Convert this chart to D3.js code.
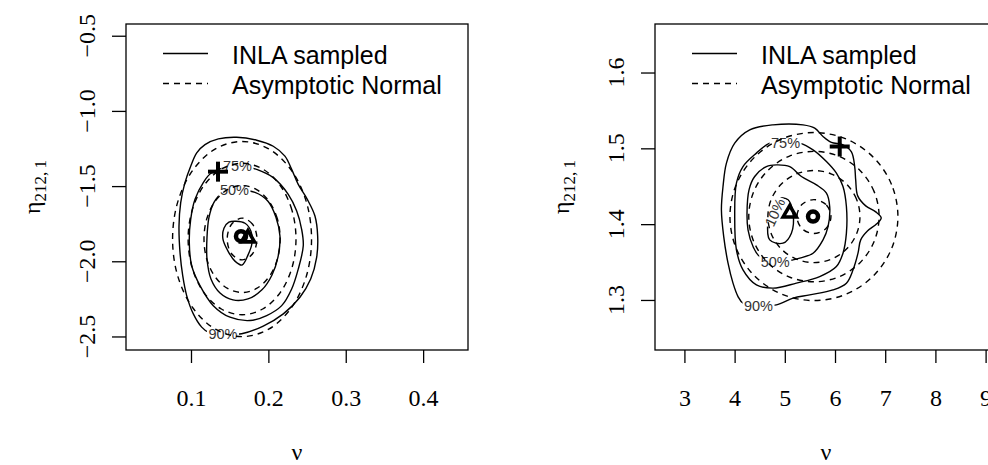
<!DOCTYPE html>
<html><head><meta charset="utf-8">
<script src="https://cdn.jsdelivr.net/npm/d3@7"></script>
<style>body{margin:0;background:#fff}svg{display:block}</style>
</head><body>
<svg id="chart" width="988" height="465"></svg>
<script>
// ---------- data ----------
const legendLabels = ["INLA sampled", "Asymptotic Normal"];
const xTitle = "\u03BD";
const yTitleMain = "\u03B7";
const yTitleSub = "212,\u20091";

const leftXTicks = [0.1, 0.2, 0.3, 0.4];
const leftYTicks = [-2.5, -2.0, -1.5, -1.0, -0.5];
const rightXTicks = [3, 4, 5, 6, 7, 8, 9];
const rightYTicks = [1.3, 1.4, 1.5, 1.6];

// Left panel: INLA sampled contours (solid)
const leftS90 = [[0.1655,-2.482],[0.1934,-2.431],[0.2193,-2.350],[0.2408,-2.239],[0.2547,-2.118],[0.2624,-1.974],[0.2637,-1.831],[0.2602,-1.699],[0.2503,-1.588],[0.2386,-1.489],[0.2301,-1.389],[0.2214,-1.301],[0.2063,-1.235],[0.1849,-1.195],[0.159,-1.175],[0.1353,-1.186],[0.1181,-1.224],[0.1074,-1.279],[0.0996,-1.368],[0.0922,-1.477],[0.0867,-1.610],[0.0845,-1.765],[0.0858,-1.941],[0.0893,-2.096],[0.0944,-2.228],[0.103,-2.350],[0.1138,-2.438],[0.1224,-2.471],[0.1440,-2.485]];
const leftS75 = [[0.1607,-1.362],[0.1849,-1.389],[0.2063,-1.444],[0.2257,-1.555],[0.2366,-1.666],[0.243,-1.787],[0.2451,-1.897],[0.2386,-2.052],[0.2301,-2.184],[0.2172,-2.295],[0.1978,-2.361],[0.1762,-2.394],[0.1504,-2.372],[0.1288,-2.295],[0.1116,-2.162],[0.1009,-2.030],[0.0978,-1.875],[0.0996,-1.721],[0.1052,-1.588],[0.1159,-1.477],[0.1267,-1.411]];
const leftS50 = [[0.1568,-1.529],[0.1827,-1.542],[0.1995,-1.601],[0.2098,-1.707],[0.215,-1.833],[0.2124,-1.972],[0.2047,-2.091],[0.1917,-2.190],[0.1736,-2.250],[0.1543,-2.257],[0.1375,-2.211],[0.1258,-2.118],[0.1207,-1.985],[0.1207,-1.839],[0.1233,-1.707],[0.1297,-1.608],[0.14,-1.548]];
const leftS10 = [[0.1581,-1.734],[0.1698,-1.747],[0.1775,-1.800],[0.1788,-1.880],[0.1736,-1.959],[0.1659,-2.025],[0.1568,-1.999],[0.1478,-1.932],[0.1413,-1.853],[0.1426,-1.780],[0.149,-1.740]];
// Left panel: asymptotic normal contours (dashed)
const leftN90 = [[0.2558,-1.852],[0.2490,-1.6034],[0.2295,-1.3932],[0.2004,-1.2523],[0.166,-1.203],[0.1316,-1.2523],[0.1025,-1.3932],[0.0830,-1.6034],[0.0762,-1.852],[0.0830,-2.1006],[0.1025,-2.3108],[0.1316,-2.4517],[0.166,-2.501],[0.2004,-2.4517],[0.2295,-2.3108],[0.2490,-2.1006]];
const leftN75 = [[0.2357,-1.852],[0.2304,-1.6591],[0.2153,-1.496],[0.1927,-1.3867],[0.166,-1.3484],[0.1393,-1.3867],[0.1167,-1.496],[0.1016,-1.6591],[0.0963,-1.852],[0.1016,-2.0449],[0.1167,-2.208],[0.1393,-2.3173],[0.166,-2.3556],[0.1927,-2.3173],[0.2153,-2.208],[0.2304,-2.0449]];
const leftN50 = [[0.2152,-1.852],[0.2115,-1.7158],[0.2008,-1.6005],[0.1848,-1.5233],[0.166,-1.4963],[0.1472,-1.5233],[0.1312,-1.6005],[0.1205,-1.7158],[0.1168,-1.852],[0.1205,-1.9882],[0.1312,-2.1035],[0.1472,-2.1807],[0.166,-2.2077],[0.1848,-2.1807],[0.2008,-2.1035],[0.2115,-1.9882]];
const leftN10 = [[0.1852,-1.852],[0.1796,-1.7538],[0.166,-1.7131],[0.1524,-1.7538],[0.1468,-1.852],[0.1524,-1.9502],[0.166,-1.9909],[0.1796,-1.9502]];
const leftLabelText = ["75%", "50%", "90%"];
const leftLabelX = [0.1601, 0.1562, 0.1413];
const leftLabelY = [-1.366, -1.527, -2.482];
const leftLabelAngle = [0, 0, 0];
const leftCircle = [0.1646, -1.833];
const leftTriangle = [0.1736, -1.846];
const leftPlus = [0.1349, -1.404];

// Right panel: INLA sampled contours (solid)
const rightS90 = [[4.833,1.2935],[5.163,1.3024],[5.496,1.3067],[5.960,1.3133],[6.227,1.3222],[6.359,1.3397],[6.458,1.3617],[6.512,1.3793],[6.651,1.3912],[6.831,1.4004],[6.920,1.4083],[6.811,1.4162],[6.612,1.4241],[6.452,1.4373],[6.412,1.4584],[6.392,1.4760],[6.327,1.4954],[6.159,1.5046],[5.928,1.5078],[5.761,1.5156],[5.596,1.5267],[5.363,1.531],[4.765,1.531],[4.301,1.5244],[4.002,1.5069],[3.837,1.4805],[3.769,1.4496],[3.737,1.4189],[3.783,1.3836],[3.869,1.3485],[3.968,1.3222],[4.068,1.3045],[4.167,1.2958],[4.476,1.2918]];
const rightS75 = [[4.998,1.509],[5.297,1.5069],[5.562,1.498],[5.829,1.4826],[6.028,1.4673],[6.159,1.4496],[6.227,1.4232],[6.227,1.3881],[6.159,1.3617],[6.028,1.3441],[5.695,1.3309],[5.231,1.3222],[4.765,1.3156],[4.434,1.3199],[4.167,1.3397],[4.036,1.3661],[4.002,1.41],[4.036,1.4541],[4.167,1.476],[4.434,1.4937],[4.699,1.5069]];
const rightS50 = [[4.833,1.4782],[5.098,1.476],[5.331,1.4628],[5.63,1.4518],[5.829,1.4409],[5.894,1.4232],[5.861,1.3968],[5.761,1.3793],[5.562,1.3617],[5.297,1.3551],[5.163,1.3529],[4.833,1.3507],[4.5,1.3573],[4.367,1.3705],[4.267,1.3925],[4.247,1.4145],[4.287,1.4453],[4.400,1.4628],[4.633,1.476]];
const rightS10 = [[4.665,1.4057],[4.699,1.3793],[4.964,1.3749],[5.131,1.3881],[5.163,1.4145],[5.064,1.4321],[4.865,1.4343],[4.733,1.4232]];
// Right panel: asymptotic normal contours (dashed)
const rightN90 = [[7.253,1.41],[7.126,1.4524],[6.763,1.4883],[6.221,1.5124],[5.58,1.5208],[4.939,1.5124],[4.397,1.4883],[4.034,1.4524],[3.907,1.41],[4.034,1.3676],[4.397,1.3317],[4.939,1.3076],[5.58,1.2992],[6.221,1.3076],[6.763,1.3317],[7.126,1.3676]];
const rightN75 = [[6.878,1.41],[6.779,1.4429],[6.498,1.4708],[6.077,1.4895],[5.58,1.496],[5.083,1.4895],[4.662,1.4708],[4.381,1.4429],[4.282,1.41],[4.381,1.3771],[4.662,1.3492],[5.083,1.3305],[5.58,1.324],[6.077,1.3305],[6.498,1.3492],[6.779,1.3771]];
const rightN50 = [[6.497,1.41],[6.427,1.4332],[6.228,1.4529],[5.931,1.4661],[5.58,1.4707],[5.229,1.4661],[4.932,1.4529],[4.733,1.4332],[4.663,1.41],[4.733,1.3868],[4.932,1.3671],[5.229,1.3539],[5.58,1.3493],[5.931,1.3539],[6.228,1.3671],[6.427,1.3868]];
const rightN10 = [[5.919,1.41],[5.82,1.4258],[5.58,1.4324],[5.34,1.4258],[5.241,1.41],[5.34,1.3942],[5.58,1.3876],[5.82,1.3942]];
const rightLabelText = ["75%", "50%", "90%", "10%"];
const rightLabelX = [5.014, 4.809, 4.476, 4.80];
const rightLabelY = [1.5069, 1.3509, 1.2918, 1.4156];
const rightLabelAngle = [0, 0, 0, -65];
const rightCircle = [5.562, 1.41];
const rightTriangle = [5.098, 1.4145];
const rightPlus = [6.094, 1.5024];

// ---------- layout ----------
const TOP = 24, BOTTOM = 350, PW = 342;
const fmt1 = d3.format(".1f");
const panels = [
  {left:126, xDomain:[0.016,0.458], yDomain:[-2.59,-0.422], xTicks:leftXTicks, yTicks:leftYTicks,
   xFmt:fmt1, yFmt:fmt1, solids:[leftS90,leftS75,leftS50,leftS10], dashed:[leftN90,leftN75,leftN50,leftN10],
   labels:leftLabelText.map((t,i)=>({t, x:leftLabelX[i], y:leftLabelY[i], a:leftLabelAngle[i]})),
   circle:leftCircle, tri:leftTriangle, plus:leftPlus},
  {left:655, xDomain:[2.414,9.227], yDomain:[1.234,1.664], xTicks:rightXTicks, yTicks:rightYTicks,
   xFmt:d3.format("d"), yFmt:fmt1, solids:[rightS90,rightS75,rightS50,rightS10], dashed:[rightN90,rightN75,rightN50,rightN10],
   labels:rightLabelText.map((t,i)=>({t, x:rightLabelX[i], y:rightLabelY[i], a:rightLabelAngle[i]})),
   circle:rightCircle, tri:rightTriangle, plus:rightPlus}
];

const svg = d3.select("#chart");
svg.append("rect").attr("width",988).attr("height",465).attr("fill","#fff");
const SERIF = "'Liberation Serif','Times New Roman',serif";
const SANS = "'Liberation Sans',Arial,Helvetica,sans-serif";

panels.forEach((p, pi) => {
  const x = d3.scaleLinear().domain(p.xDomain).range([p.left, p.left + PW]);
  const y = d3.scaleLinear().domain(p.yDomain).range([BOTTOM, TOP]);
  const clipId = "clip" + pi;
  svg.append("clipPath").attr("id", clipId).append("rect")
    .attr("x", p.left).attr("y", TOP).attr("width", PW).attr("height", BOTTOM - TOP);
  const g = svg.append("g").attr("clip-path", `url(#${clipId})`);
  const line = d3.line().x(d => x(d[0])).y(d => y(d[1])).curve(d3.curveCatmullRomClosed.alpha(0.5));

  // solid contours
  g.selectAll("path.solid").data(p.solids).join("path").attr("class","solid")
    .attr("d", line).attr("fill","none").attr("stroke","#000").attr("stroke-width",1.4);

  // contour labels with line gap
  const lab = g.selectAll("g.lab").data(p.labels).join("g").attr("class","lab")
    .attr("transform", d => `translate(${x(d.x)},${y(d.y)}) rotate(${d.a})`);
  lab.append("rect").attr("x",-16).attr("y",-7).attr("width",32).attr("height",14).attr("fill","#fff");
  lab.append("text").text(d => d.t).attr("text-anchor","middle").attr("dy","0.36em")
    .attr("font-family", SANS).attr("font-size", 14.5).attr("fill","#333");

  // dashed contours
  g.selectAll("path.dash").data(p.dashed).join("path").attr("class","dash")
    .attr("d", line).attr("fill","none").attr("stroke","#000").attr("stroke-width",1.4)
    .attr("stroke-dasharray","6,5");

  // frame
  svg.append("rect").attr("x", p.left).attr("y", TOP).attr("width", PW).attr("height", BOTTOM - TOP)
    .attr("fill","none").attr("stroke","#000").attr("stroke-width",1.3);

  // x axis
  const xa = svg.append("g").attr("transform",`translate(0,${BOTTOM})`)
    .call(d3.axisBottom(x).tickValues(p.xTicks).tickSize(13).tickPadding(26).tickFormat(p.xFmt));
  xa.select(".domain").remove();
  xa.selectAll("line").attr("stroke","#000").attr("stroke-width",1.3);
  xa.selectAll("text").attr("font-family", SERIF).attr("font-size", 24).attr("fill","#000");

  // y axis
  const ya = svg.append("g").attr("transform",`translate(${p.left},0)`)
    .call(d3.axisLeft(y).tickValues(p.yTicks).tickSize(14).tickFormat(""));
  ya.select(".domain").remove();
  ya.selectAll("line").attr("stroke","#000").attr("stroke-width",1.3);
  svg.append("g").selectAll("text").data(p.yTicks).join("text")
    .attr("transform", d => `translate(${p.left - 31},${y(d)}) rotate(-90)`)
    .attr("text-anchor","middle").attr("font-family", SERIF).attr("font-size", 24)
    .text(d => p.yFmt(d));

  // axis titles
  svg.append("text").attr("x", p.left + PW/2).attr("y", 460).attr("text-anchor","middle")
    .attr("font-family", SERIF).attr("font-size", 24).text(xTitle);
  const yt = svg.append("text")
    .attr("transform", `translate(${p.left - 86},${(TOP+BOTTOM)/2}) rotate(-90)`)
    .attr("text-anchor","middle").attr("font-family", SERIF).attr("font-size", 24);
  yt.append("tspan").text(yTitleMain);
  yt.append("tspan").attr("dy", 6).attr("font-size", 17).text(yTitleSub);

  // legend
  const lg = svg.append("g").attr("transform", `translate(${p.left},${TOP})`);
  legendLabels.forEach((t, i) => {
    lg.append("line").attr("x1", 37).attr("x2", 82).attr("y1", 29.5 + 30*i).attr("y2", 29.5 + 30*i)
      .attr("stroke","#000").attr("stroke-width",1.4).attr("stroke-dasharray", i ? "6,5" : null);
    lg.append("text").attr("x", 106).attr("y", 39.5 + 30*i).attr("font-family", SANS)
      .attr("font-size", 25).attr("fill","#000").text(t);
  });

  // markers
  const m = svg.append("g");
  m.append("circle").attr("cx", x(p.circle[0])).attr("cy", y(p.circle[1])).attr("r", 5)
    .attr("fill","none").attr("stroke","#000").attr("stroke-width",4.5);
  m.append("path").attr("d", d3.symbol(d3.symbolTriangle, 75)())
    .attr("transform", `translate(${x(p.tri[0])},${y(p.tri[1])})`)
    .attr("fill","none").attr("stroke","#000").attr("stroke-width",3.6).attr("stroke-linejoin","miter");
  const px = x(p.plus[0]), py = y(p.plus[1]);
  m.append("line").attr("x1", px-10).attr("x2", px+10).attr("y1", py).attr("y2", py).attr("stroke","#000").attr("stroke-width",4);
  m.append("line").attr("x1", px).attr("x2", px).attr("y1", py-10).attr("y2", py+10).attr("stroke","#000").attr("stroke-width",4);
});
</script>
</body></html>
